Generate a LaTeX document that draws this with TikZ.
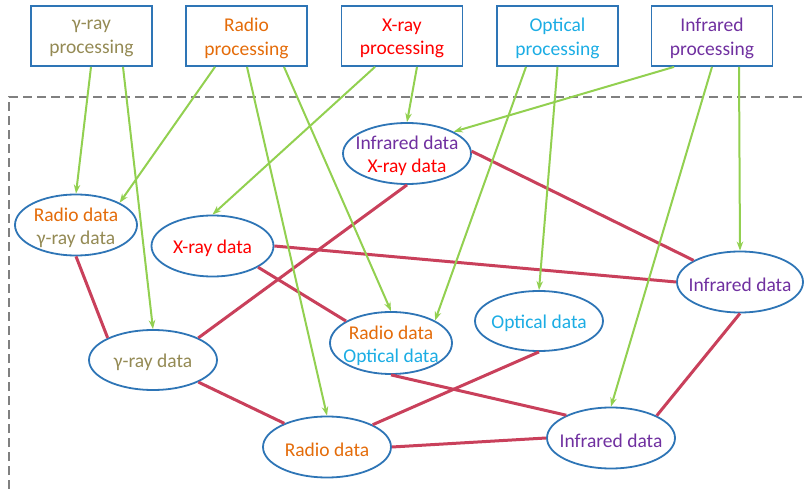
\documentclass[tikz,border=0pt]{standalone}
\usepackage{fontspec}
\setmainfont{Carlito}
\usetikzlibrary{shapes.geometric,arrows.meta}
\definecolor{bdr}{HTML}{2E75B6}
\definecolor{grn}{HTML}{92D050}
\definecolor{edgered}{HTML}{C9405B}
\definecolor{cgam}{HTML}{948A54}
\definecolor{crad}{HTML}{E46C0A}
\definecolor{cxr}{HTML}{FF0000}
\definecolor{copt}{HTML}{1CADE4}
\definecolor{cinf}{HTML}{7030A0}
\definecolor{dashgray}{HTML}{808080}
\begin{document}
\begin{tikzpicture}[x=1pt,y=-1pt,
  proc/.style={draw=bdr,line width=1.8pt,minimum width=121pt,minimum height=60pt,inner sep=0pt},
  dat/.style={ellipse,draw=bdr,line width=1.8pt,minimum width=126pt,minimum height=61pt,inner sep=0pt,fill=white},
  lab/.style={align=center,inner sep=0pt,yshift=-2.5pt,font=\fontsize{19.5}{23.3}\selectfont},
  feed/.style={draw=grn,line width=2pt,-{Stealth[length=9pt,width=6.5pt]}},
  link/.style={draw=edgered,line width=3pt},
  frame/.style={draw=dashgray,line width=1.5pt,dash pattern=on 9pt off 5pt}]
\useasboundingbox (0,0) rectangle (804,489);
\draw[frame] (9,489) -- (9,97) -- (802,97);

% processing boxes
\node[proc,label={[lab]center:\textcolor{cgam}{γ-ray}\\\textcolor{cgam}{processing}}] (pg) at (91.5,36) {};
\node[proc,label={[lab]center:\textcolor{crad}{Radio}\\\textcolor{crad}{processing}}] (pr) at (246.5,36) {};
\node[proc,label={[lab]center:\textcolor{cxr}{X-ray}\\\textcolor{cxr}{processing}}] (px) at (402,36) {};
\node[proc,label={[lab]center:\textcolor{copt}{Optical}\\\textcolor{copt}{processing}}] (po) at (557.5,36) {};
\node[proc,label={[lab]center:\textcolor{cinf}{Infrared}\\\textcolor{cinf}{processing}}] (pi) at (712,36) {};

% data ellipses
\node[dat,minimum width=128pt,label={[lab]center:\textcolor{cinf}{Infrared data}\\\textcolor{cxr}{X-ray data}}] (ix) at (407,153.5) {};
\node[dat,minimum width=122pt,label={[lab]center:\textcolor{crad}{Radio data}\\\textcolor{cgam}{γ-ray data}}] (rg) at (76,225) {};
\node[dat,minimum width=122pt,label={[lab]center:\textcolor{cxr}{X-ray data}}] (xd) at (212.5,246) {};
\node[dat,minimum width=128pt,minimum height=60pt,label={[lab]center:\textcolor{cgam}{γ-ray data}}] (gd) at (153,360) {};
\node[dat,minimum width=122pt,minimum height=62pt,label={[lab]center:\textcolor{crad}{Radio data}\\\textcolor{copt}{Optical data}}] (ro) at (391,343) {};
\node[dat,minimum width=128pt,minimum height=60pt,label={[lab]center:\textcolor{copt}{Optical data}}] (od) at (539,321) {};
\node[dat,label={[lab]center:\textcolor{cinf}{Infrared data}}] (ir) at (740,282) {};
\node[dat,minimum width=128pt,label={[lab]center:\textcolor{cinf}{Infrared data}}] (ib) at (611,438) {};
\node[dat,minimum width=128pt,label={[lab]center:\textcolor{crad}{Radio data}}] (rb) at (327,447) {};

% red links
\draw[link] (rg.south) -- (gd.154);
\draw[link] (gd.26) -- (ix.south);
\draw[link] (xd.east) -- (ir.west);
\draw[link] (xd.-25) -- (ro.154);
\draw[link] (ix.2) -- (ir.155);
\draw[link] (gd.-26) -- (rb.151);
\draw[link] (ro.south) -- (ib.153);
\draw[link] (od.south) -- (rb.26);
\draw[link] (rb.east) -- (ib.west);
\draw[link] (ib.26) -- (ir.south);

% green feeds
\draw[feed] ([xshift=-0.5pt]pg.south) -- (rg.north);
\draw[feed] ([xshift=31.5pt]pg.south) -- (gd.north);
\draw[feed] ([xshift=-31.5pt]pr.south) -- (rg.27);
\draw[feed] ([xshift=0.5pt]pr.south) -- (rb.north);
\draw[feed] ([xshift=37.5pt]pr.south) -- (ro.north);
\draw[feed] ([xshift=-27pt]px.south) -- (xd.north);
\draw[feed] ([xshift=15pt]px.south) -- (ix.north);
\draw[feed] ([xshift=-31.5pt]po.south) -- (ro.27);
\draw[feed] ([xshift=0pt]po.south) -- (od.north);
\draw[feed] ([xshift=-38pt]pi.south) -- (ix.25);
\draw[feed] ([xshift=0pt]pi.south) -- (ib.north);
\draw[feed] ([xshift=27pt]pi.south) -- (ir.north);
\end{tikzpicture}
\end{document}
